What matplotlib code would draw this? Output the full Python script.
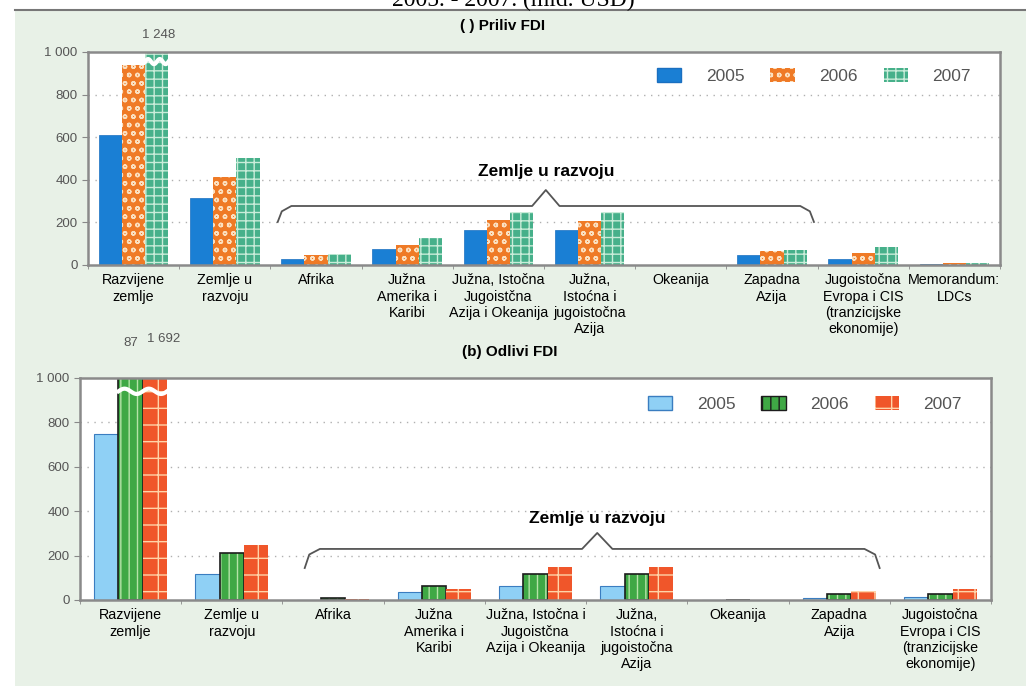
import matplotlib.pyplot as plt
from matplotlib.patches import Rectangle, Patch
import numpy as np

# data (mld. USD)
labels_in = ["Razvijene\nzemlje", "Zemlje u\nrazvoju", "Afrika", "Južna\nAmerika i\nKaribi",
             "Južna, Istočna\nJugoistčna\nAzija i Okeanija", "Južna,\nIstoćna i\njugoistočna\nAzija",
             "Okeanija", "Zapadna\nAzija", "Jugoistočna\nEvropa i CIS\n(tranzicijske\nekonomije)",
             "Memorandum:\nLDCs"]
labels_out = ["Razvijene\nzemlje", "Zemlje u\nrazvoju", "Afrika", "Južna\nAmerika i\nKaribi",
              "Južna, Istočna i\nJugoistčna\nAzija i Okeanija", "Južna,\nIstoćna i\njugoistočna\nAzija",
              "Okeanija", "Zapadna\nAzija", "Jugoistočna\nEvropa i CIS\n(tranzicijske\nekonomije)"]
years = ["2005", "2006", "2007"]

in_2005 = [612, 315, 30, 75, 165, 165, 0.5, 45, 30, 5]
in_2006 = [940, 415, 45, 95, 210, 208, 1, 65, 55, 10]
in_2007 = [1248, 500, 53, 127, 250, 248, 1, 72, 85, 10]

out_2005 = [750, 115, 2, 35, 62, 62, 0.5, 8, 12]
out_2006 = [1087, 210, 8, 63, 115, 115, 0.5, 25, 25]
out_2007 = [1692, 250, 3, 50, 150, 150, 0.5, 42, 50]

YMAX = 1000
lab_font = 'Liberation Sans'
bg = '#e8f1e7'

fig = plt.figure(figsize=(10.26, 6.86), dpi=100)
fig.patches.append(Rectangle((15 / 1026, 0), 1, 1 - 10 / 686, transform=fig.transFigure,
                             facecolor=bg, edgecolor='none', zorder=-10))
fig.add_artist(plt.Line2D([15 / 1026, 1], [1 - 10 / 686] * 2, color='#777777', lw=1.5))
fig.text(0.5, 0.999, "2005. - 2007. (mld. USD)", ha='center', va='center',
         family='Liberation Serif', fontsize=17)
fig.text(0.49, 1 - 26 / 686, "( ) Priliv FDI", ha='center', va='center',
         fontsize=11, fontweight='bold', family='Liberation Sans')
fig.text(0.497, 1 - 352 / 686, "(b) Odlivi FDI", ha='center', va='center',
         fontsize=11, fontweight='bold', family='Liberation Sans')


def style_axes(ax, n, labels):
    ax.set_xlim(-0.5, n - 0.5)
    ax.set_ylim(0, YMAX)
    ax.set_yticks([0, 200, 400, 600, 800, 1000])
    ax.set_yticklabels(['0', '200', '400', '600', '800', '1 000'], family='Liberation Sans')
    ax.set_xticks(range(n))
    ax.set_xticklabels(labels, family=lab_font, fontsize=10.3, linespacing=1.2)
    ax.set_xticks(np.arange(-0.5, n, 1), minor=True)
    ax.tick_params(axis='x', which='major', length=0, pad=6)
    ax.tick_params(axis='x', which='minor', length=3, color='#888888')
    ax.tick_params(axis='y', length=4, color='#888888', labelsize=9.5, labelcolor='#555555')
    for s in ax.spines.values():
        s.set_color('#8a8a8a')
        s.set_linewidth(1.8)
    for v in [200, 400, 600, 800]:
        ax.axhline(v, color='#b0b0b0', lw=1, ls=(0, (1, 4)), zorder=0)


def brace(ax, x0, x1, xm, y_end, y_line, y_peak, text, y_text):
    c = '#555555'
    r = 0.15
    xs = [x0, x0 + r * 0.3, x0 + r, xm - r, xm, xm + r, x1 - r, x1 - r * 0.3, x1]
    ys = [y_end, y_line - 25, y_line, y_line, y_peak, y_line, y_line, y_line - 25, y_end]
    ax.plot(xs, ys, color=c, lw=1.3, zorder=3, solid_joinstyle='round')
    ax.text(xm, y_text, text, ha='center', va='center', fontsize=12.5,
            fontweight='bold', family='Liberation Sans', zorder=4)


def wave(ax, xc, w, y):
    t = np.linspace(-w / 2, w / 2, 40)
    ax.plot(xc + t, y + 12 * np.sin(t / w * 4 * np.pi), color='white', lw=3, zorder=5)


# --- Priliv FDI ---
ax1 = fig.add_axes([88 / 1026, 1 - 265 / 686, 912 / 1026, 213 / 686])
ax1.set_facecolor('white')
n1 = len(labels_in)
x1 = np.arange(n1)
bw = 0.255
clip1 = [min(v, YMAX) for v in in_2007]
ax1.bar(x1 - bw, in_2005, bw, color='#1a7fd4', edgecolor='#1a6fc0', lw=0.5, zorder=2)
ax1.bar(x1, in_2006, bw, color='#ef7a26', edgecolor='#fbe0c0', hatch='oo', lw=0, zorder=2)
ax1.bar(x1 + bw, clip1, bw, color='#46b08a', edgecolor='#c9ecd9', hatch='++', lw=0, zorder=2)
style_axes(ax1, n1, labels_in)
wave(ax1, bw, bw, 955)
ax1.text(0.27, 1080, "1 248", ha='center', va='center', fontsize=9.5,
         color='#555555', clip_on=False, family='Liberation Sans')
brace(ax1, 1.58, 7.46, 4.52, 202, 277, 352, "Zemlje u razvoju", 437)
h1 = [Patch(facecolor='#1a7fd4', edgecolor='#1a6fc0'),
      Patch(facecolor='#ef7a26', edgecolor='#fbe0c0', hatch='oo', lw=0),
      Patch(facecolor='#46b08a', edgecolor='#c9ecd9', hatch='++', lw=0)]
ax1.legend(h1, years, loc='upper right', ncol=3, frameon=False,
           labelcolor='#555555', handlelength=1.4, handleheight=0.9, columnspacing=1.5,
           handletextpad=1.4, bbox_to_anchor=(0.985, 1.0), prop={'family': 'Liberation Sans', 'size': 12.5})

# --- Odlivi FDI ---
ax2 = fig.add_axes([80 / 1026, 1 - 600 / 686, 911 / 1026, 222 / 686])
ax2.set_facecolor('white')
n2 = len(labels_out)
x2 = np.arange(n2)
bw2 = 0.24
c06 = [min(v, YMAX) for v in out_2006]
c07 = [min(v, YMAX) for v in out_2007]
ax2.bar(x2 - bw2, out_2005, bw2, color='#8fd0f5', edgecolor='#3a7dc0', lw=0.8, zorder=2)
ax2.bar(x2, c06, bw2, color='#3fa845', edgecolor='#b5e3a8', hatch='||', lw=0, zorder=2)
ax2.bar(x2, c06, bw2, fill=False, edgecolor='#1c1c1c', lw=1.2, zorder=2)
ax2.bar(x2 + bw2, c07, bw2, color='#f0562a', edgecolor='#ffd3a8', hatch='+', lw=0, zorder=2)
style_axes(ax2, n2, labels_out)
wave(ax2, bw2 / 2, bw2 * 2, 940)
ax2.text(0.0, 1158, "87", ha='center', va='center', fontsize=9.5,
         color='#555555', clip_on=False, family='Liberation Sans')
ax2.text(0.33, 1175, "1 692", ha='center', va='center', fontsize=9.5,
         color='#555555', clip_on=False, family='Liberation Sans')
brace(ax2, 1.72, 7.40, 4.61, 144, 230, 302, "Zemlje u razvoju", 365)
h2 = [Patch(facecolor='#8fd0f5', edgecolor='#3a7dc0'),
      Patch(facecolor='#3fa845', edgecolor='#1c1c1c', hatch='||'),
      Patch(facecolor='#f0562a', edgecolor='#ffd3a8', hatch='+', lw=0)]
ax2.legend(h2, years, loc='upper right', ncol=3, frameon=False,
           labelcolor='#555555', handlelength=1.4, handleheight=0.9, columnspacing=1.5,
           handletextpad=1.4, bbox_to_anchor=(0.985, 0.99), prop={'family': 'Liberation Sans', 'size': 12.5})

fig.savefig('out.png', dpi=100)
